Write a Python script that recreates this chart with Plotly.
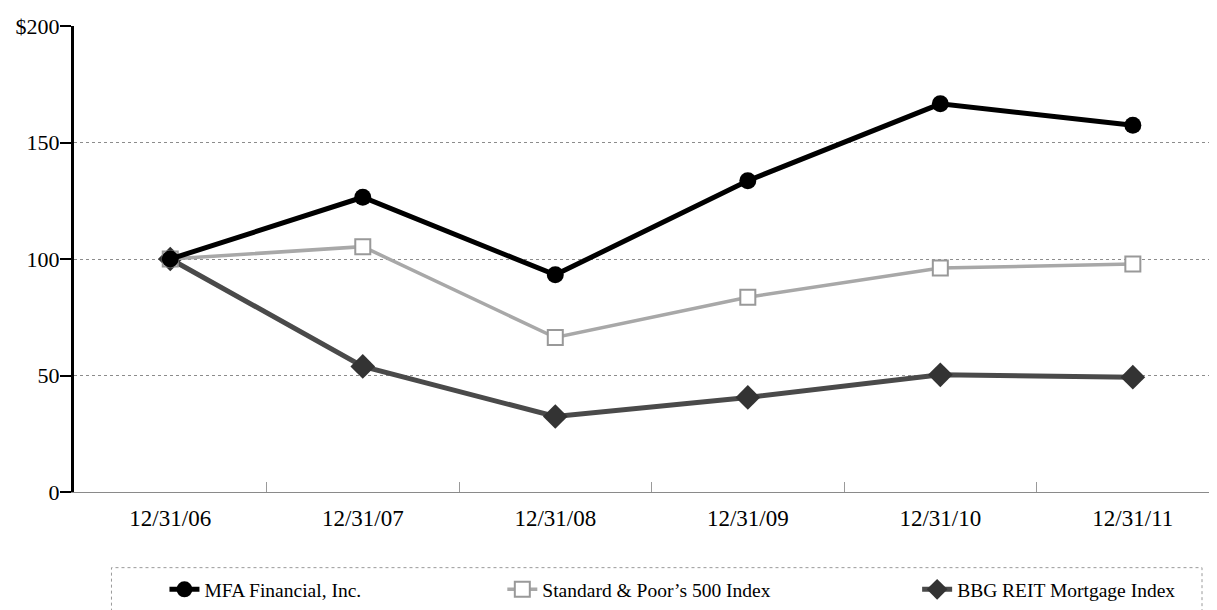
import plotly.graph_objects as go

categories = ["12/31/06", "12/31/07", "12/31/08", "12/31/09", "12/31/10", "12/31/11"]
mfa = [100, 126.5, 93.2, 133.6, 166.6, 157.4]
sp500 = [100, 105.3, 66.3, 83.6, 96.1, 97.9]
bbg = [100, 53.9, 32.4, 40.6, 50.3, 49.3]
y_tickvals = [0, 50, 100, 150, 200]
y_ticktext = ["0", "50", "100", "150", "$200"]

FONT = "Liberation Serif"

# page body has an 8px default margin; work in page pixels and shift
OFF = 8
W, H = 1217 - OFF, 610 - OFF
L_PAGE, T_PAGE, B_PAGE = 73.5, 26, 492.3
L, T = L_PAGE - OFF, T_PAGE - OFF
plot_w = 1217 - L_PAGE
plot_h = B_PAGE - T_PAGE

def px_x(p):
    return (p - L_PAGE) / plot_w

def px_y(p):
    return (B_PAGE - p) / plot_h

fig = go.Figure()

fig.add_trace(go.Scatter(
    x=categories, y=bbg, name="BBG REIT Mortgage Index", mode="lines+markers",
    line=dict(color="#4a4a4a", width=5),
    marker=dict(symbol="diamond", size=19, color="#333333"),
    legend="legend3"))
fig.add_trace(go.Scatter(
    x=categories, y=sp500, name="Standard & Poor\u2019s 500 Index", mode="lines+markers",
    line=dict(color="#a8a8a8", width=3.5),
    marker=dict(symbol="square", size=15, color="white", line=dict(color="#999999", width=2)),
    legend="legend2"))
fig.add_trace(go.Scatter(
    x=categories, y=mfa, name="MFA Financial, Inc.", mode="lines+markers",
    line=dict(color="black", width=5),
    marker=dict(symbol="circle", size=17, color="black"),
    legend="legend"))

cat_w = 192.6
x_max = -0.5 + plot_w / cat_w

fig.update_xaxes(
    type="category", range=[-0.5, x_max],
    showgrid=False, zeroline=False,
    showline=True, linecolor="#8a8a8a", linewidth=1,
    ticks="inside", tickson="boundaries", ticklen=10, tickcolor="#9a9a9a", tickwidth=1,
    tickfont=dict(family=FONT, size=23, color="black"),
    ticklabelstandoff=5,
)
fig.update_yaxes(
    range=[0, 200], tickvals=y_tickvals, ticktext=y_ticktext,
    showgrid=True, gridcolor="#8c8c8c", gridwidth=1, griddash="dot",
    zeroline=False,
    showline=True, linecolor="black", linewidth=3,
    ticks="outside", ticklen=11, tickcolor="black", tickwidth=2,
    tickfont=dict(family=FONT, size=22, color="black"),
    ticklabelstandoff=-4,
)

leg_common = dict(orientation="h", yref="paper", y=px_y(590), yanchor="middle",
                  xanchor="left", bgcolor="rgba(0,0,0,0)", borderwidth=0,
                  font=dict(family=FONT, size=19.5, color="black"))

fig.update_layout(
    width=W, height=H,
    margin=dict(l=L, r=0, t=T, b=H - (B_PAGE - OFF)),
    paper_bgcolor="white", plot_bgcolor="white",
    showlegend=True,
    legend=dict(x=px_x(164), **leg_common),
    legend2=dict(x=px_x(502), **leg_common),
    legend3=dict(x=px_x(917), **leg_common),
)

fig.add_shape(type="rect", xref="paper", yref="paper",
              x0=px_x(111), x1=px_x(1202), y0=px_y(614), y1=px_y(568),
              line=dict(color="#9a9a9a", width=1, dash="dot"), layer="below")

fig.write_html("out.html")
